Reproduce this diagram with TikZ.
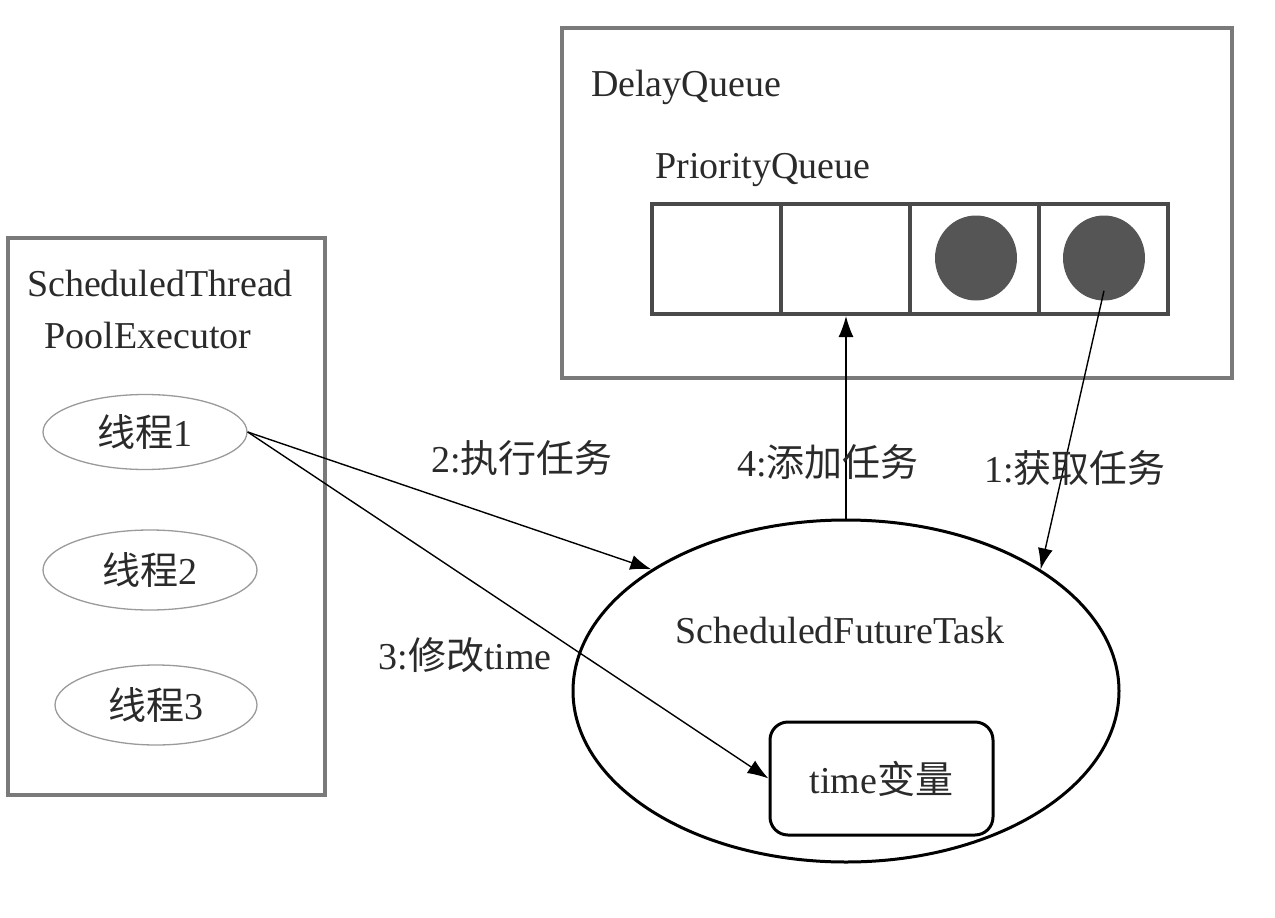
\documentclass[tikz,border=0pt]{standalone}
\usepackage{fontspec}
\setmainfont{Liberation Serif}
\newfontfamily\cjk{Noto Sans CJK SC}
\usetikzlibrary{shapes.geometric,arrows.meta}
\definecolor{boxgrey}{HTML}{7A7A7A}
\definecolor{cellgrey}{HTML}{4A4A4A}
\definecolor{dotgrey}{HTML}{555555}
\definecolor{txt}{HTML}{2A2A2A}
\definecolor{thin}{HTML}{9A9A9A}
\tikzset{
  lbl/.style={inner sep=0pt, text=txt, font=\fontsize{38}{42}\selectfont},
  outerbox/.style={draw=boxgrey, line width=4pt, inner sep=0pt},
  thread/.style={ellipse, draw=thin, line width=1.3pt, inner sep=0pt, text=txt, font=\fontsize{38}{42}\selectfont},
  cell/.style={draw=cellgrey, line width=4pt, minimum width=129pt, minimum height=110pt, inner sep=0pt},
  dot/.style={ellipse, fill=dotgrey, minimum width=82pt, minimum height=85pt, inner sep=0pt},
  conn/.style={line width=1.4pt, -{Latex[length=21pt,width=15pt]}},
}
\begin{document}
\begin{tikzpicture}[x=1pt,y=-1pt]
\useasboundingbox (0,0) rectangle (1275,918);
% left box
\node[outerbox, minimum width=317pt, minimum height=557pt] (exec) at (166.5,516.5) {};
\node[lbl] (et1) at (160,283) {ScheduledThread};
\node[lbl] (et2) at (148,335) {PoolExecutor};
\node[thread, minimum width=204pt, minimum height=75pt] (t1) at (145,432) {\cjk 线程\rmfamily 1};
\node[thread, minimum width=214pt, minimum height=80pt] (t2) at (150,570) {\cjk 线程\rmfamily 2};
\node[thread, minimum width=202pt, minimum height=80pt] (t3) at (156,705) {\cjk 线程\rmfamily 3};
% delay queue
\node[outerbox, minimum width=670pt, minimum height=350pt] (dq) at (897,203) {};
\node[lbl] (dql) at (686,87) {DelayQueue};
\node[lbl] (pql) at (763,170) {PriorityQueue};
\node[cell] (q1) at (716.5,259) {};
\node[cell] (q2) at (845.5,259) {};
\node[cell] (q3) at (974.5,259) {};
\node[cell] (q4) at (1103.5,259) {};
\node[dot] (c3) at (976,258) {};
\node[dot] (c4) at (1104,258) {};
% scheduled future task
\node[ellipse, draw=black, line width=3pt, minimum width=546pt, minimum height=342pt, inner sep=0pt] (sft) at (846,691) {};
\node[lbl] (sftl) at (840,630) {ScheduledFutureTask};
\node[draw=black, line width=3pt, rounded corners=18pt, minimum width=223pt, minimum height=113pt, inner sep=0pt, text=txt, font=\fontsize{38}{42}\selectfont] (tv) at (881.5,778.5) {time\cjk 变量};
% connectors
\draw[conn] (t1.east) -- (sft.148);
\draw[conn] (t1.east) -- (tv.west);
\draw[conn] (sft.north) -- (sft.north |- q2.south);
\draw[conn] ([yshift=10pt]c4.south) -- (sft.32);
% labels
\node[lbl] (l2) at (522,458) {2:\cjk 执行任务};
\node[lbl] (l4) at (828,462) {4:\cjk 添加任务};
\node[lbl] (l1) at (1075,468) {1:\cjk 获取任务};
\node[lbl] (l3) at (465,655) {3:\cjk 修改\rmfamily time};
\end{tikzpicture}
\end{document}
